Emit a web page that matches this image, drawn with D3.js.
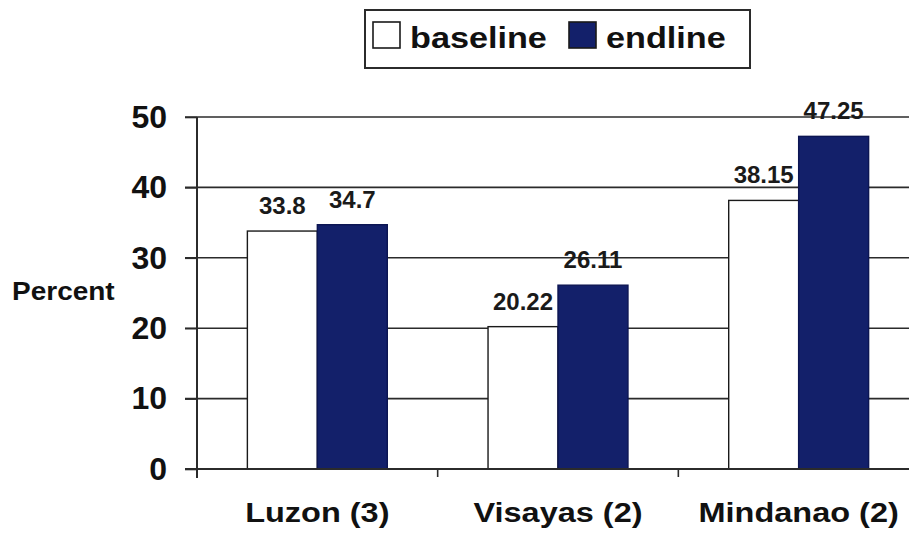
<!DOCTYPE html>
<html>
<head>
<meta charset="utf-8">
<script src="https://cdn.jsdelivr.net/npm/d3@7"></script>
<style>
    body { margin: 0; background: #fff; }
    #chart { width: 909px; height: 535px; overflow: hidden; }
</style>
</head>
<body>
<div id="chart"></div>
<script>
const categories = ["Luzon (3)", "Visayas (2)", "Mindanao (2)"];
const series = ["baseline", "endline"];
const baseline = [33.8, 20.22, 38.15];
const endline = [34.7, 26.11, 47.25];
const yTicks = [0, 10, 20, 30, 40, 50];

(() => {
    const W = 909, H = 535;
    const m = { top: 117, left: 197, bottom: 469, right: 919 };
    const colors = { baseline: "#ffffff", endline: "#13206a" };
    const font = "Liberation Sans, Arial, sans-serif";

    const svg = d3.select("#chart").append("svg").attr("width", W).attr("height", H);

    const rows = categories.map((c, i) => ({ cat: c, baseline: baseline[i], endline: endline[i] }));

    const x0 = d3.scaleBand().domain(categories).range([m.left, m.right]).padding(0);
    const x1 = d3.scaleBand().domain(series).range([0, x0.bandwidth()]).paddingInner(0).paddingOuter(0.72);
    const y = d3.scaleLinear().domain([0, 50]).range([m.bottom, m.top]);

    // gridlines
    svg.append("g").selectAll("line")
        .data(yTicks.slice(1))
        .join("line")
        .attr("x1", m.left - 12).attr("x2", W)
        .attr("y1", d => y(d)).attr("y2", d => y(d))
        .attr("stroke", "#2b2b2b").attr("stroke-width", 1.6);

    // bars
    const grp = svg.append("g").selectAll("g")
        .data(rows)
        .join("g")
        .attr("transform", d => `translate(${x0(d.cat)},0)`);

    grp.selectAll("rect")
        .data(d => series.map(s => ({ s, v: d[s] })))
        .join("rect")
        .attr("x", d => x1(d.s))
        .attr("y", d => y(d.v))
        .attr("width", x1.bandwidth())
        .attr("height", d => y(0) - y(d.v))
        .attr("fill", d => colors[d.s])
        .attr("stroke", d => d.s === "baseline" ? "#1a1a1a" : "#0c1552")
        .attr("stroke-width", 1.4);

    grp.selectAll("text")
        .data(d => series.map(s => ({ s, v: d[s] })))
        .join("text")
        .attr("x", d => x1(d.s) + x1.bandwidth() / 2)
        .attr("y", d => y(d.v) - 17)
        .attr("text-anchor", "middle")
        .attr("font-family", font)
        .attr("font-weight", "bold")
        .attr("font-size", 24)
        .attr("fill", "#1a1a1a")
        .text(d => d.v);

    // y axis
    const yAxis = svg.append("g")
        .attr("transform", `translate(${m.left},0)`)
        .call(d3.axisLeft(y).tickValues(yTicks).tickSize(12).tickPadding(18));
    yAxis.select(".domain").attr("d", `M0,${m.top}V${m.bottom + 9}`).attr("stroke", "#2b2b2b").attr("stroke-width", 2);
    yAxis.selectAll(".tick line").attr("stroke", "#2b2b2b").attr("stroke-width", 1.6);
    yAxis.selectAll(".tick text")
        .attr("font-family", font)
        .attr("font-weight", "bold")
        .attr("font-size", 32)
        .attr("fill", "#111");

    // x axis
    const xAxis = svg.append("g")
        .attr("transform", `translate(0,${m.bottom})`)
        .call(d3.axisBottom(x0).tickSize(0).tickPadding(0));
    xAxis.select(".domain").attr("d", `M${m.left - 12},0H${W}`).attr("stroke", "#2b2b2b").attr("stroke-width", 2);
    xAxis.selectAll(".tick text")
        .attr("font-family", font)
        .attr("font-weight", "bold")
        .attr("font-size", 28)
        .attr("fill", "#111")
        .attr("dy", null)
        .attr("y", 0)
        .attr("transform", "translate(0,53) scale(1.16,1)");
    // category separators below axis
    xAxis.append("g").selectAll("line")
        .data(categories)
        .join("line")
        .attr("x1", d => x0(d)).attr("x2", d => x0(d))
        .attr("y1", 0).attr("y2", 8)
        .attr("stroke", "#2b2b2b").attr("stroke-width", 1.6);

    // y title
    svg.append("text")
        .attr("transform", "translate(12,300) scale(1.12,1)")
        .attr("font-family", font)
        .attr("font-weight", "bold")
        .attr("font-size", 25)
        .attr("fill", "#111")
        .text("Percent");

    // legend
    const lg = svg.append("g");
    lg.append("rect")
        .attr("x", 365).attr("y", 10).attr("width", 385).attr("height", 58)
        .attr("fill", "#fff").attr("stroke", "#2b2b2b").attr("stroke-width", 2);
    const lx = { baseline: 373, endline: 569 };
    const items = lg.selectAll("g.item")
        .data(series)
        .join("g").attr("class", "item")
        .attr("transform", d => `translate(${lx[d]},22)`);
    items.append("rect")
        .attr("width", 27).attr("height", 26)
        .attr("fill", d => colors[d])
        .attr("stroke", "#1a1a1a").attr("stroke-width", 1.6);
    items.append("text")
        .attr("transform", "translate(37,26) scale(1.18,1)")
        .attr("font-family", font)
        .attr("font-weight", "bold")
        .attr("font-size", 29)
        .attr("fill", "#111")
        .text(d => d);
})();
</script>
</body>
</html>
